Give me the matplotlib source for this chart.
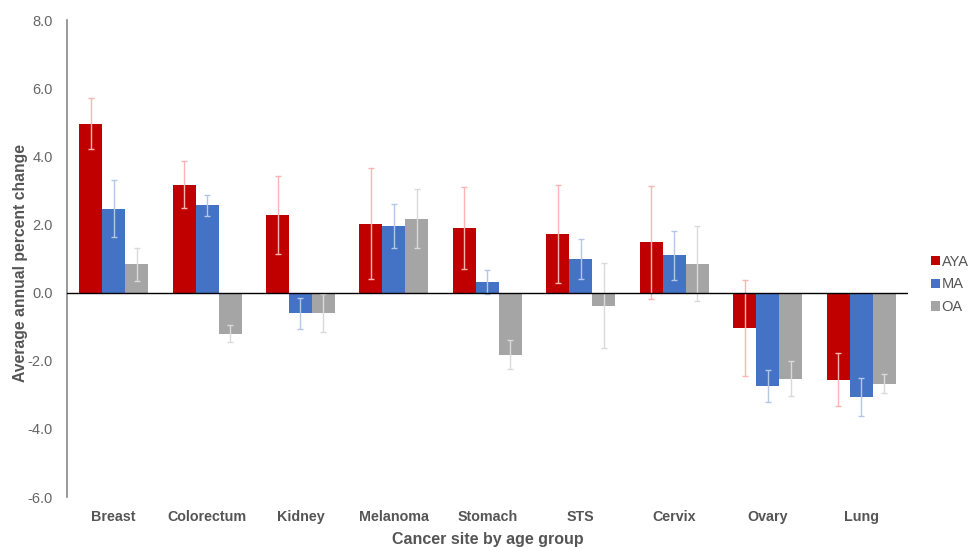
import matplotlib.pyplot as plt
import numpy as np

plt.rcParams['font.family'] = ['Liberation Sans', 'DejaVu Sans']

sites = ["Breast", "Colorectum", "Kidney", "Melanoma", "Stomach",
         "STS", "Cervix", "Ovary", "Lung"]
groups = ["AYA", "MA", "OA"]

aya = [4.96, 3.16, 2.27, 2.02, 1.89, 1.72, 1.47, -1.04, -2.56]
ma = [2.46, 2.56, -0.61, 1.95, 0.31, 0.99, 1.10, -2.74, -3.07]
oa = [0.83, -1.21, -0.60, 2.17, -1.82, -0.38, 0.85, -2.53, -2.68]

aya_err = [0.75, 0.69, 1.15, 1.63, 1.20, 1.45, 1.67, 1.41, 0.78]
ma_err = [0.83, 0.30, 0.45, 0.64, 0.36, 0.58, 0.72, 0.47, 0.56]
oa_err = [0.48, 0.25, 0.56, 0.87, 0.42, 1.25, 1.10, 0.52, 0.28]

bar_colors = ["#C00000", "#4472C4", "#A5A5A5"]
err_colors = ["#FFB3B3", "#B4C7E7", "#DADADA"]

fig = plt.figure(figsize=(9.69, 5.47), dpi=100)
ax = fig.add_axes([0.069, 0.0914, 0.868, 0.872])

x = np.arange(len(sites))
w = 0.246
for i, (vals, errs) in enumerate(zip([aya, ma, oa], [aya_err, ma_err, oa_err])):
    ax.bar(x + (i - 1) * w, vals, w, color=bar_colors[i], label=groups[i],
           yerr=errs, ecolor=err_colors[i],
           error_kw=dict(elinewidth=1.0, capsize=2.5, capthick=1.0), zorder=2)

ax.axhline(0, color="black", lw=1.0, zorder=3)
ax.set_xlim(-0.5, len(sites) - 0.5)
ax.set_ylim(-6, 8)
ax.set_yticks(np.arange(-6, 8.1, 2))
ax.set_yticklabels([f"{v:.1f}" for v in np.arange(-6, 8.1, 2)])
ax.set_xticks(x)
ax.set_xticklabels(sites, fontweight="bold")

for s in ["top", "right", "bottom"]:
    ax.spines[s].set_visible(False)
ax.spines["left"].set_color("#888888")
ax.spines["left"].set_linewidth(1.2)

ax.tick_params(axis="y", length=0, pad=10, labelsize=10.5, labelcolor="#666666")
ax.tick_params(axis="x", length=0, pad=9, labelsize=10.3, labelcolor="#555555")

ax.set_xlabel("Cancer site by age group", fontsize=11.5, fontweight="bold",
              color="#555555", labelpad=6)
ax.set_ylabel("Average annual percent change", fontsize=11.3, fontweight="bold",
              color="#555555")
ax.yaxis.set_label_coords(-0.046, 0.49)

leg = fig.legend(loc="center left", bbox_to_anchor=(0.961, 0.48), frameon=False,
                 handlelength=0.6, handleheight=0.6, handletextpad=0.12,
                 labelspacing=0.6, fontsize=10.5, borderpad=0, borderaxespad=0)
for t in leg.get_texts():
    t.set_color("#555555")

fig.savefig("out.png", dpi=100)
